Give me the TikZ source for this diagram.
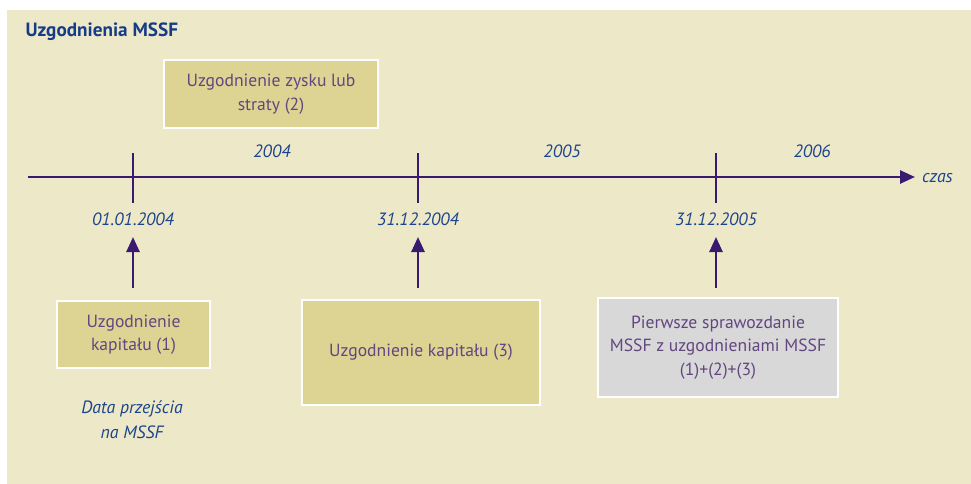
\documentclass[tikz,border=0pt]{standalone}
\usepackage{fontspec}
\setmainfont{PT Sans}
\usetikzlibrary{arrows.meta}
\definecolor{bgc}{RGB}{237,233,200}
\definecolor{khaki}{RGB}{221,211,147}
\definecolor{greyb}{RGB}{216,216,216}
\definecolor{linec}{RGB}{58,26,112}
\definecolor{datec}{RGB}{28,68,140}
\definecolor{boxtxt}{RGB}{98,70,128}
\definecolor{titlec}{RGB}{22,60,135}
\tikzset{
  box/.style={draw=white, line width=2.5pt, fill=khaki, text=boxtxt, align=center,
    inner sep=0pt, font=\fontsize{17.6}{23.5}\selectfont},
  datelbl/.style={text=datec, font=\fontsize{17.8}{25}\selectfont\itshape, align=center, inner sep=1pt},
  axis/.style={draw=linec, line width=2.6pt},
  uparrow/.style={draw=linec, line width=2.6pt, -{Triangle[length=15pt,width=13pt]}}
}
\begin{document}
\begin{tikzpicture}[x=1pt,y=-1pt]
\useasboundingbox (0,0) rectangle (971,484);
\fill[bgc] (7,10) rectangle (971,484);
\node[anchor=west, text=titlec, font=\fontsize{19.2}{22}\selectfont\bfseries] (title) at (22,32) {Uzgodnienia MSSF};
% boxes
\node[box, minimum width=153, minimum height=67] (b1) at (133.5,334.5) {Uzgodnienie\\kapitału (1)};
\node[box, minimum width=214, minimum height=68] (b2) at (271,94) {Uzgodnienie zysku lub\\straty (2)};
\node[box, minimum width=238, minimum height=105] (b3) at (421,352.5) {Uzgodnienie kapitału (3)};
\node[box, fill=greyb, minimum width=240, minimum height=99] (b4) at (718,347.5) {Pierwsze sprawozdanie\\MSSF z uzgodnieniami MSSF\\(1)+(2)+(3)};
% timeline
\coordinate (tstart) at (28,177);
\coordinate (tend) at (915,177);
\draw[uparrow] (tstart) -- (tend);
\node[datelbl, anchor=west] (czas) at (921,178) {czas};
\coordinate (t1a) at (133,153); \coordinate (t1b) at (133,203);
\coordinate (t2a) at (418,153); \coordinate (t2b) at (418,203);
\coordinate (t3a) at (716,153); \coordinate (t3b) at (716,203);
\draw[axis] (t1a) -- (t1b);
\draw[axis] (t2a) -- (t2b);
\draw[axis] (t3a) -- (t3b);
% years
\node[datelbl] (y2004) at (272,151) {2004};
\node[datelbl] (y2005) at (562,151) {2005};
\node[datelbl] (y2006) at (812,151) {2006};
% dates
\node[datelbl] (d1) at (133,219) {01.01.2004};
\node[datelbl] (d2) at (418,219) {31.12.2004};
\node[datelbl] (d3) at (716,219) {31.12.2005};
\node[datelbl] (dp) at (132,420) {Data przejścia\\na MSSF};
% arrows
\coordinate (a1s) at (133,288); \coordinate (a1e) at (133,237);
\coordinate (a2s) at (418,288); \coordinate (a2e) at (418,237);
\coordinate (a3s) at (716,288); \coordinate (a3e) at (716,237);
\draw[uparrow] (a1s) -- (a1e);
\draw[uparrow] (a2s) -- (a2e);
\draw[uparrow] (a3s) -- (a3e);
\end{tikzpicture}
\end{document}
